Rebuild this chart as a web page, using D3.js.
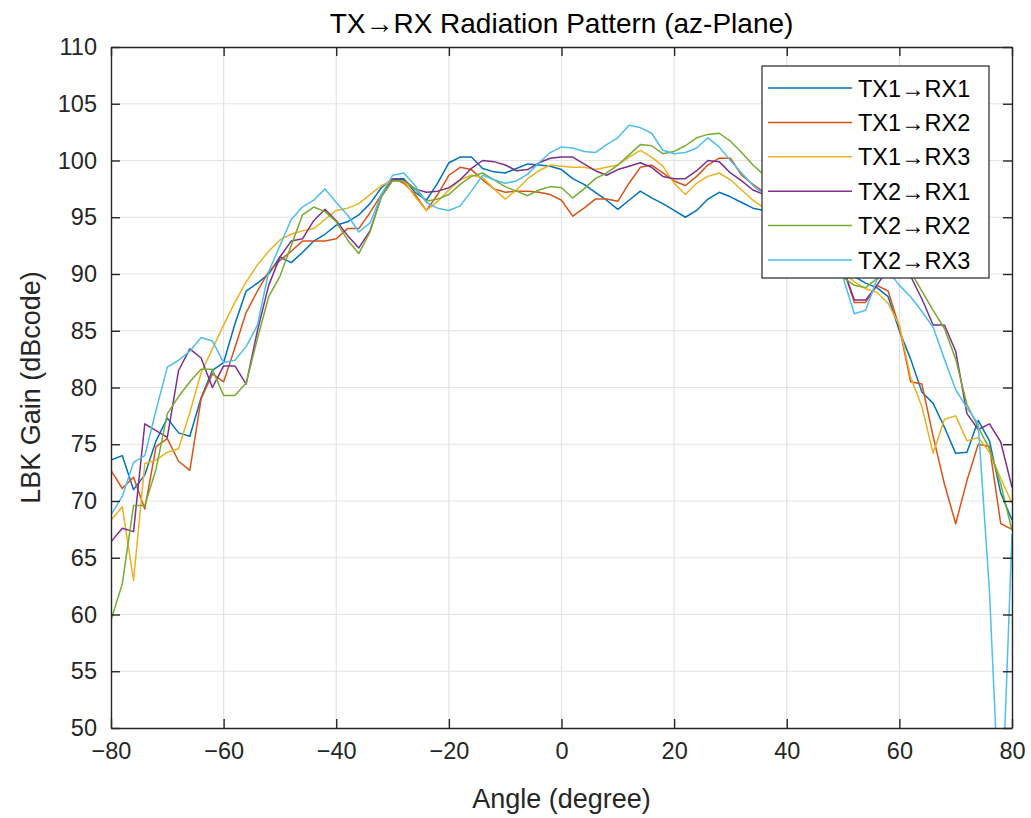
<!DOCTYPE html>
<html>
<head>
<meta charset="utf-8">
<script src="https://cdn.jsdelivr.net/npm/d3@7"></script>
<style>
  html, body { margin: 0; padding: 0; background: #fff; }
  svg { display: block; font-family: "Liberation Sans", Arial, Helvetica, sans-serif; }
</style>
</head>
<body>
<svg id="chart" width="1031" height="818"></svg>
<script>
// ---- data ----
const angles = d3.range(-80, 81, 2);
const xTicks = [-80, -60, -40, -20, 0, 20, 40, 60, 80];
const yTicks = [50, 55, 60, 65, 70, 75, 80, 85, 90, 95, 100, 105, 110];
const seriesNames = ["TX1\u2192RX1", "TX1\u2192RX2", "TX1\u2192RX3", "TX2\u2192RX1", "TX2\u2192RX2", "TX2\u2192RX3"];
const seriesColors = ["#0072BD", "#D95319", "#EDB120", "#7E2F8E", "#77AC30", "#4DBEEE"];

const tx1rx1 = [73.6,74.0,71.0,72.3,75.3,77.3,76.0,75.7,79.1,81.5,82.2,85.6,88.5,89.2,90.0,91.5,91.0,91.9,92.9,93.5,94.3,94.6,95.2,96.2,97.6,98.4,98.4,97.2,96.5,98.0,99.8,100.3,100.3,99.3,99.0,98.9,99.3,99.7,99.6,99.5,99.2,98.4,97.9,97.2,96.5,95.7,96.5,97.3,96.7,96.2,95.6,95.0,95.6,96.6,97.2,96.8,96.3,95.8,95.6,95.0,94.5,94.0,93.0,92.0,91.0,90.0,89.8,89.2,88.8,88.0,85.0,82.5,79.6,78.6,76.5,74.2,74.3,77.1,75.3,70.7,68.3];
const tx1rx2 = [72.7,71.1,72.1,69.3,74.8,75.5,73.5,72.7,79.0,81.2,80.5,83.5,86.6,88.5,90.2,91.2,92.0,92.9,92.9,92.9,93.1,94.0,94.0,95.4,97.0,98.4,98.0,97.0,95.6,97.0,98.7,99.4,99.2,98.3,97.5,97.2,97.3,97.3,97.2,97.0,96.5,95.1,95.8,96.6,96.6,96.4,98.0,99.4,99.6,98.9,98.2,97.8,98.6,99.6,100.2,100.2,98.7,97.9,97.2,96.5,95.8,95.0,94.0,93.0,92.0,90.5,87.5,87.5,89.0,88.5,85.3,80.5,80.3,75.7,71.5,68.0,71.8,75.0,74.8,68.0,67.5];
const tx1rx3 = [68.3,69.5,63.0,73.3,73.6,74.3,74.6,77.8,81.3,83.4,85.5,87.5,89.3,90.8,92.0,93.0,93.5,93.8,94.0,94.8,95.6,95.8,96.2,97.0,97.8,98.2,98.2,96.8,95.6,96.4,97.4,98.3,98.7,98.5,97.5,96.6,97.4,98.4,99.1,99.6,99.5,99.4,99.4,99.2,99.4,99.6,100.3,100.9,100.3,99.5,98.0,97.0,98.0,98.6,98.9,98.3,97.4,96.5,95.8,95.2,94.5,93.7,92.8,91.8,90.8,90.2,89.3,88.7,88.4,87.4,85.5,80.9,78.3,74.2,77.2,77.5,75.3,75.6,74.3,72.0,69.8];
const tx2rx1 = [66.4,67.6,67.3,76.8,76.2,75.6,81.5,83.4,82.6,80.0,81.9,81.9,80.3,85.0,89.0,91.5,92.9,93.1,94.7,95.7,94.7,93.4,92.3,93.8,96.8,98.3,98.3,97.5,97.2,97.3,97.6,98.3,99.3,100.0,99.9,99.6,99.1,99.2,99.8,100.2,100.3,100.3,99.7,99.1,98.7,99.2,99.5,99.8,99.4,98.6,98.4,98.4,99.1,100.0,99.9,98.9,98.2,97.4,97.0,96.5,96.0,95.0,94.0,93.0,91.5,90.5,87.7,87.7,89.0,90.5,90.5,89.8,87.8,85.5,85.5,83.2,77.7,76.3,76.8,75.2,71.2];
const tx2rx2 = [59.5,62.7,69.6,69.6,72.8,77.7,79.2,80.5,81.6,81.6,79.3,79.3,80.4,84.3,88.0,89.8,92.5,95.2,95.9,95.5,94.6,93.0,91.8,93.7,96.8,98.2,98.2,97.5,96.4,96.6,97.0,97.9,98.6,98.9,98.3,97.7,97.3,96.9,97.4,97.7,97.6,96.7,97.5,98.4,98.9,99.6,100.5,101.4,101.3,100.6,100.8,101.3,102.0,102.3,102.4,101.7,100.7,99.6,98.7,97.5,96.5,95.5,94.2,92.8,91.2,89.7,89.0,88.8,89.6,91.0,91.0,90.2,88.5,86.8,85.2,82.5,78.5,76.5,74.6,71.5,67.4];
const tx2rx3 = [68.8,70.4,73.4,74.0,78.0,81.8,82.4,83.2,84.4,84.1,82.2,82.4,83.6,85.5,90.2,92.5,94.8,95.9,96.5,97.5,96.3,95.2,93.7,94.5,97.0,98.7,98.9,97.8,96.3,95.8,95.6,96.0,97.3,98.7,98.3,98.0,98.2,98.8,99.8,100.7,101.2,101.1,100.8,100.7,101.4,102.0,103.1,102.9,102.4,100.9,100.6,100.7,101.1,102.0,101.2,100.0,98.9,97.8,97.0,96.0,95.0,94.0,92.5,91.0,90.2,89.7,86.5,86.8,89.5,90.3,89.0,88.0,86.7,85.3,82.5,79.8,78.2,76.8,62.0,40.0,67.1];
const seriesValues = [tx1rx1, tx1rx2, tx1rx3, tx2rx1, tx2rx2, tx2rx3];

// ---- layout ----
const svg = d3.select("#chart");
const margin = { left: 111, right: 1012, top: 47, bottom: 728 };
const x = d3.scaleLinear().domain([-80, 80]).range([margin.left, margin.right]);
const y = d3.scaleLinear().domain([50, 110]).range([margin.bottom, margin.top]);
const axisColor = "#262626";
const tickFont = 23.5;

svg.append("rect").attr("width", 1031).attr("height", 818).attr("fill", "#fff");

// grid
const grid = svg.append("g");
grid.selectAll(".gx").data(xTicks.slice(1, -1)).enter().append("line")
  .attr("x1", d => x(d)).attr("x2", d => x(d))
  .attr("y1", margin.top).attr("y2", margin.bottom)
  .attr("stroke", "#e3e3e3").attr("stroke-width", 1.2);
grid.selectAll(".gy").data(yTicks.slice(1, -1)).enter().append("line")
  .attr("y1", d => y(d)).attr("y2", d => y(d))
  .attr("x1", margin.left).attr("x2", margin.right)
  .attr("stroke", "#e3e3e3").attr("stroke-width", 1.2);

// clip
svg.append("defs").append("clipPath").attr("id", "clip").append("rect")
  .attr("x", margin.left).attr("y", margin.top)
  .attr("width", margin.right - margin.left).attr("height", margin.bottom - margin.top);

const line = d3.line().x((d, i) => x(angles[i])).y(d => y(d));
const lines = svg.append("g").attr("clip-path", "url(#clip)");
seriesValues.forEach((vals, k) => {
  lines.append("path").datum(vals).attr("d", line)
    .attr("fill", "none").attr("stroke", seriesColors[k])
    .attr("stroke-width", 1.5).attr("stroke-linejoin", "round");
});

// axes (MATLAB style: ticks inward on all sides)
const tickLen = 9;
const axB = d3.axisBottom(x).tickValues(xTicks).tickSizeInner(-tickLen).tickSizeOuter(0).tickPadding(14).tickFormat(d3.format("d"));
const axT = d3.axisTop(x).tickValues(xTicks).tickSizeInner(-tickLen).tickSizeOuter(0).tickFormat("");
const axL = d3.axisLeft(y).tickValues(yTicks).tickSizeInner(-tickLen).tickSizeOuter(0).tickPadding(14).tickFormat(d3.format("d"));
const axR = d3.axisRight(y).tickValues(yTicks).tickSizeInner(-tickLen).tickSizeOuter(0).tickFormat("");

function style(g) {
  g.select(".domain").attr("stroke", axisColor).attr("stroke-width", 1.4);
  g.selectAll(".tick line").attr("stroke", axisColor).attr("stroke-width", 1.4);
  g.selectAll(".tick text").attr("fill", axisColor).attr("font-size", tickFont)
    .attr("font-family", "'Liberation Sans', Arial, sans-serif");
}
svg.append("g").attr("transform", `translate(0,${margin.bottom})`).call(axB).call(style);
svg.append("g").attr("transform", `translate(0,${margin.top})`).call(axT).call(style);
svg.append("g").attr("transform", `translate(${margin.left},0)`).call(axL).call(style);
svg.append("g").attr("transform", `translate(${margin.right},0)`).call(axR).call(style);

// labels
svg.append("text").attr("x", (margin.left + margin.right) / 2).attr("y", 33)
  .attr("text-anchor", "middle").attr("font-size", 28).attr("fill", "#000")
  .text("TX\u2192RX Radiation Pattern (az-Plane)");
svg.append("text").attr("x", (margin.left + margin.right) / 2).attr("y", 808)
  .attr("text-anchor", "middle").attr("font-size", 27).attr("fill", axisColor)
  .text("Angle (degree)");
svg.append("text").attr("transform", `translate(40,${(margin.top + margin.bottom) / 2}) rotate(-90)`)
  .attr("text-anchor", "middle").attr("font-size", 27).attr("fill", axisColor)
  .text("LBK Gain (dBcode)");

// legend
const lg = svg.append("g");
const lx = 762, ly = 66, lw = 227, lh = 212;
lg.append("rect").attr("x", lx).attr("y", ly).attr("width", lw).attr("height", lh)
  .attr("fill", "#fff").attr("stroke", axisColor).attr("stroke-width", 1.2);
seriesNames.forEach((name, k) => {
  const cy = ly + 22 + k * 34.4;
  lg.append("line").attr("x1", lx + 6).attr("x2", lx + 90).attr("y1", cy).attr("y2", cy)
    .attr("stroke", seriesColors[k]).attr("stroke-width", 1.5);
  lg.append("text").attr("x", lx + 96).attr("y", cy + 8.5).attr("font-size", 23.5)
    .attr("fill", "#000").text(name);
});
</script>
</body>
</html>
